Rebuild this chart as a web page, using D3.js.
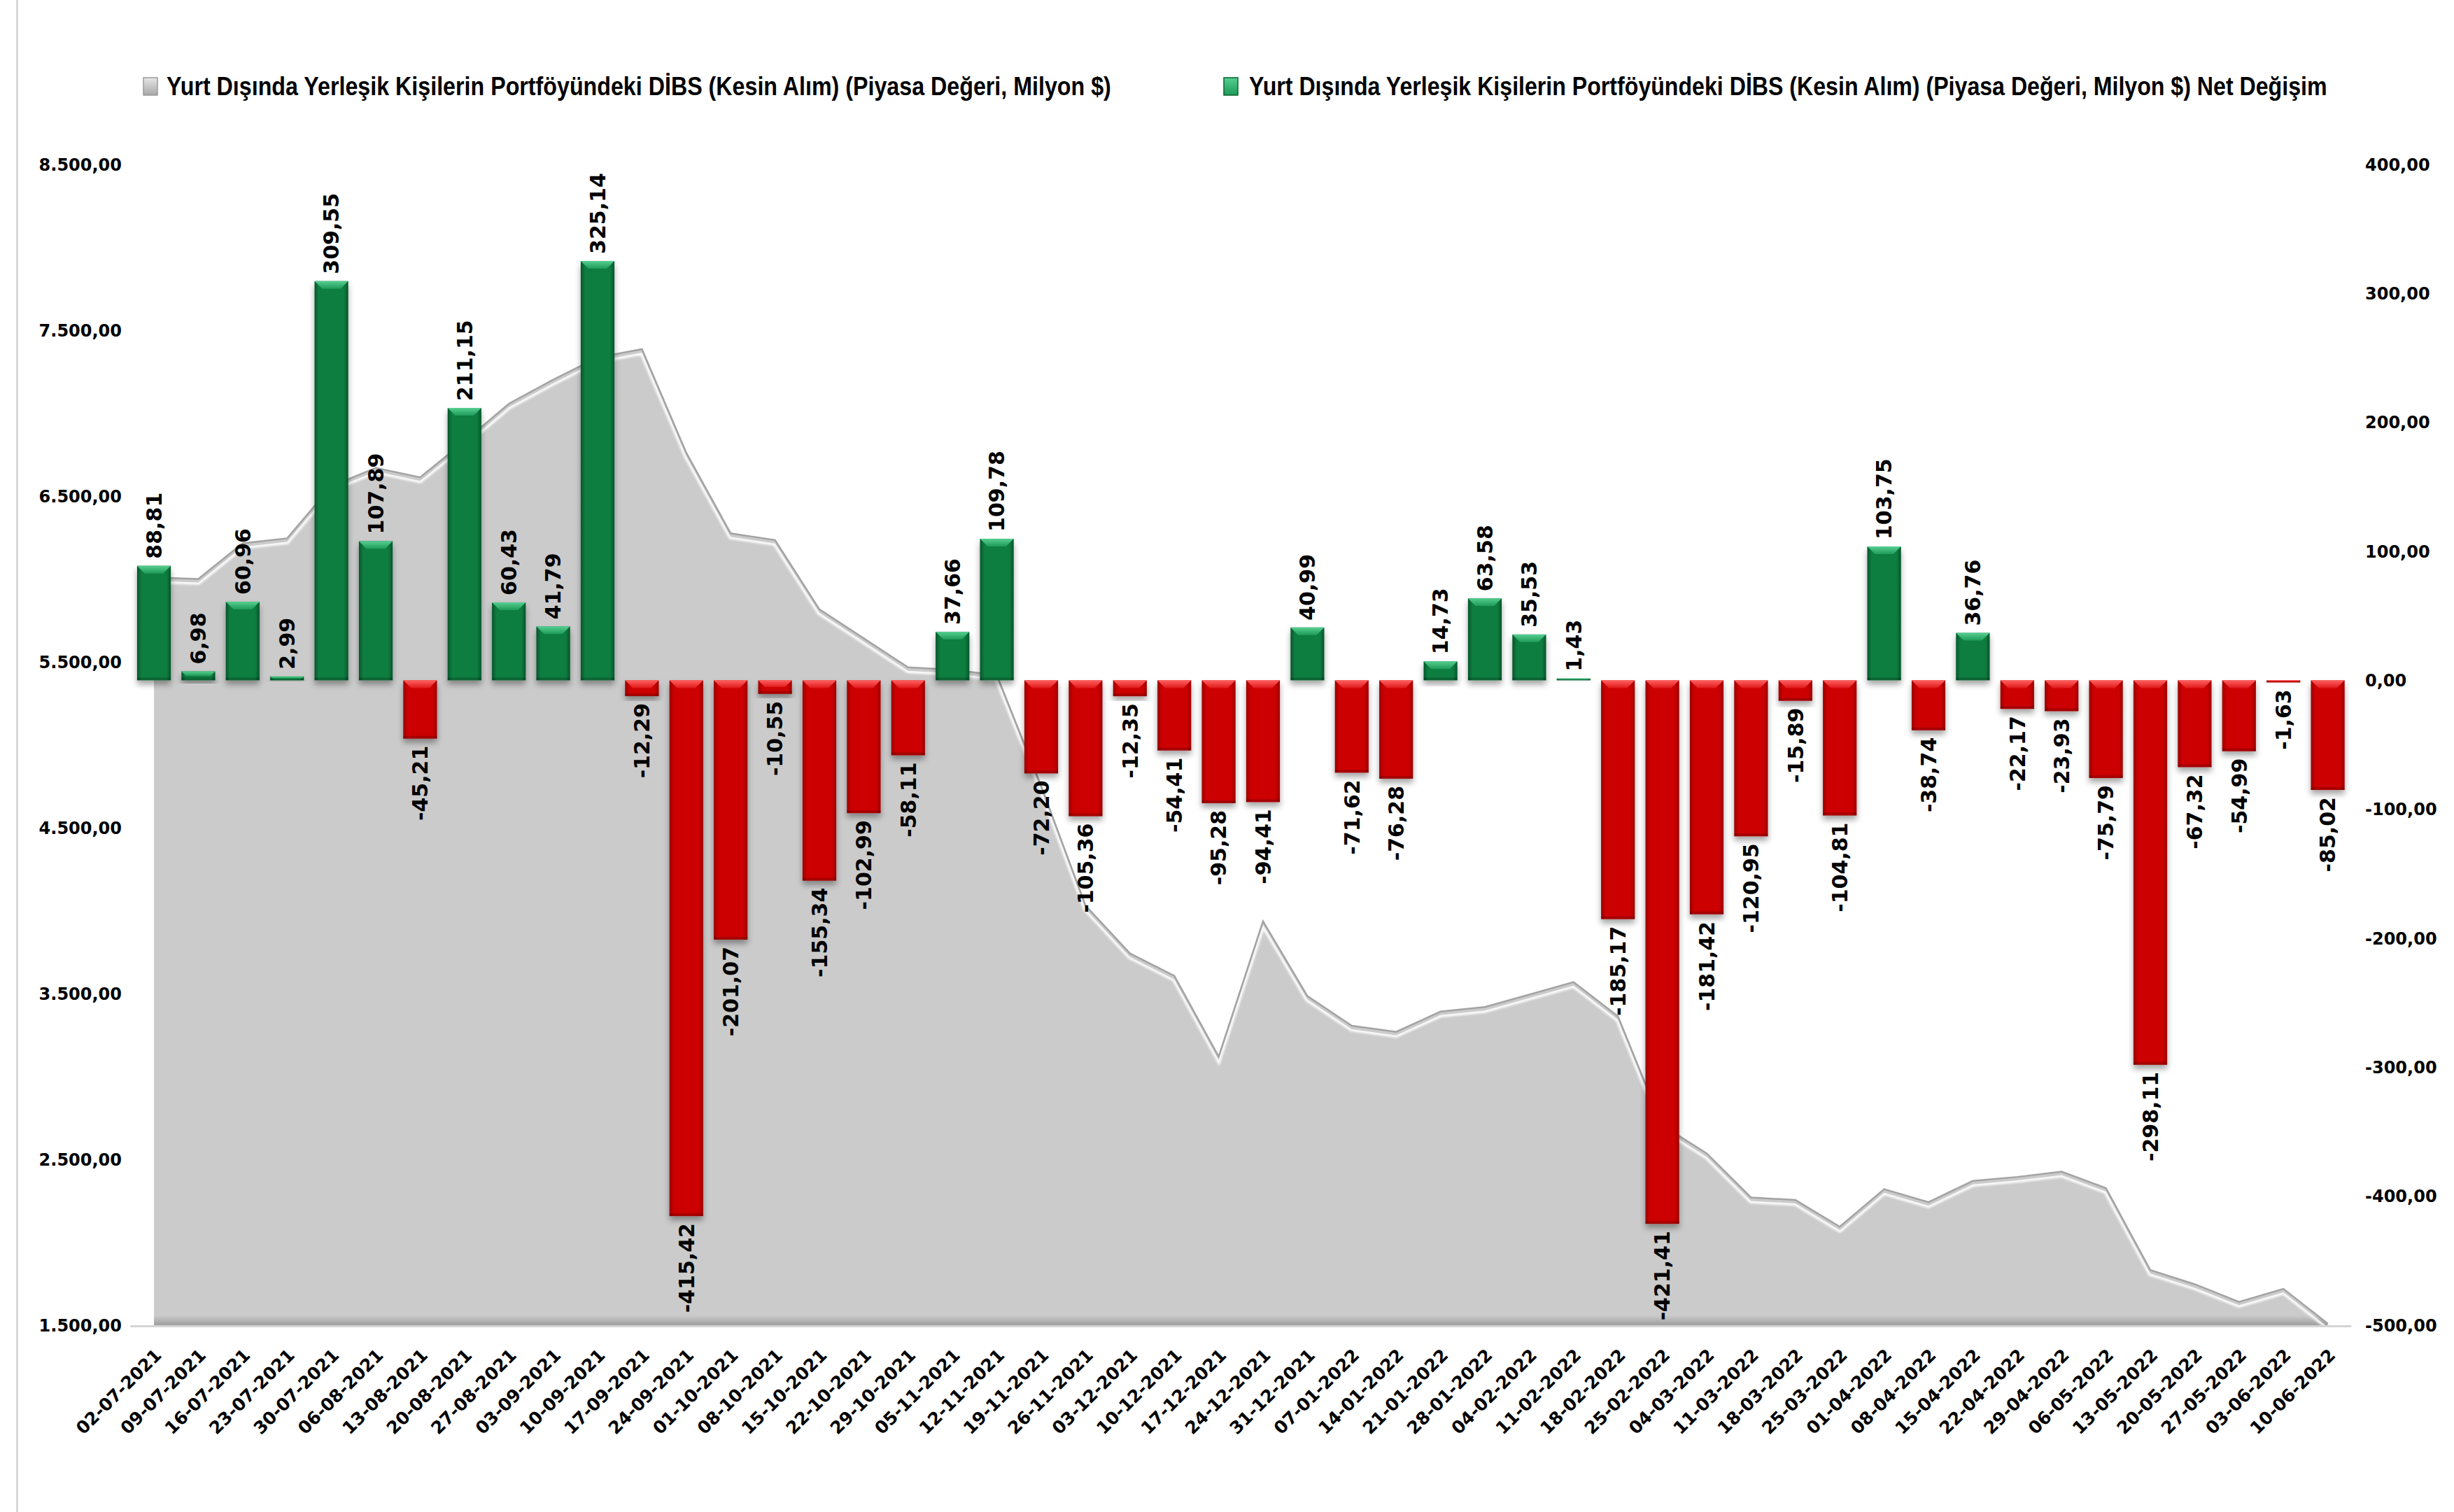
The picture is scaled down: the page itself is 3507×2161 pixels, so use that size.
<!DOCTYPE html>
<html>
<head>
<meta charset="utf-8">
<script src="https://cdn.jsdelivr.net/npm/d3@7"></script>
<style>
	body { margin: 0; background: #fff; }
	svg { display: block; }
</style>
</head>
<body>
<div id="chart"></div>
<script>
// haftalik tarihler
const categories = [
	'02-07-2021', '09-07-2021', '16-07-2021', '23-07-2021', '30-07-2021', '06-08-2021', '13-08-2021', '20-08-2021',
	'27-08-2021', '03-09-2021', '10-09-2021', '17-09-2021', '24-09-2021', '01-10-2021', '08-10-2021', '15-10-2021',
	'22-10-2021', '29-10-2021', '05-11-2021', '12-11-2021', '19-11-2021', '26-11-2021', '03-12-2021', '10-12-2021',
	'17-12-2021', '24-12-2021', '31-12-2021', '07-01-2022', '14-01-2022', '21-01-2022', '28-01-2022', '04-02-2022',
	'11-02-2022', '18-02-2022', '25-02-2022', '04-03-2022', '11-03-2022', '18-03-2022', '25-03-2022', '01-04-2022',
	'08-04-2022', '15-04-2022', '22-04-2022', '29-04-2022', '06-05-2022', '13-05-2022', '20-05-2022', '27-05-2022',
	'03-06-2022', '10-06-2022'
];

// net degisim (sag eksen)
const netChange = [
	88.81, 6.98, 60.96, 2.99, 309.55, 107.89, -45.21, 211.15,
	60.43, 41.79, 325.14, -12.29, -415.42, -201.07, -10.55, -155.34,
	-102.99, -58.11, 37.66, 109.78, -72.20, -105.36, -12.35, -54.41,
	-95.28, -94.41, 40.99, -71.62, -76.28, 14.73, 63.58, 35.53,
	1.43, -185.17, -421.41, -181.42, -120.95, -15.89, -104.81, 103.75,
	-38.74, 36.76, -22.17, -23.93, -75.79, -298.11, -67.32, -54.99,
	-1.63, -85.02
];

// portfoy piyasa degeri (sol eksen), grafikten okunan yaklasik degerler
const portfolio = [
	6010, 6000, 6215, 6245, 6560, 6670, 6613, 6830,
	7057, 7202, 7336, 7386, 6761, 6275, 6235, 5817,
	5642, 5467, 5453, 5420, 4750, 4030, 3742, 3607,
	3120, 3936, 3485, 3306, 3269, 3391, 3419, 3494,
	3569, 3363, 2705, 2536, 2270, 2255, 2094, 2320,
	2242, 2370, 2394, 2426, 2327, 1832, 1747, 1641,
	1719, 1510
];

const leftTicks = [1500, 2500, 3500, 4500, 5500, 6500, 7500, 8500];
const rightTicks = [-500, -400, -300, -200, -100, 0, 100, 200, 300, 400];
const legendNames = [
	'Yurt Dışında Yerleşik Kişilerin Portföyündeki DİBS (Kesin Alım) (Piyasa Değeri, Milyon $)',
	'Yurt Dışında Yerleşik Kişilerin Portföyündeki DİBS (Kesin Alım) (Piyasa Değeri, Milyon $) Net Değişim'
];

const WIDTH = 3507;
const HEIGHT = 2161;
const PLOT = {
	LEFT: 188.3,
	RIGHT: 3358.3,
	TOP: 235,
	BOTTOM: 1894
};
const BOLD = "'DejaVu Sans', sans-serif";

var tr = d3.formatLocale({ decimal: ',', thousands: '.', grouping: [3], currency: ['', ''], minus: '-' });
var fmt = tr.format(',.2f');

var svg = d3.select('#chart').append('svg')
	.attr('width', WIDTH)
	.attr('height', HEIGHT);

var defs = svg.append('defs');

function hGrad (id, edge, mid) {
	var g = defs.append('linearGradient').attr('id', id).attr('x1', 0).attr('x2', 1).attr('y1', 0).attr('y2', 0);
	g.append('stop').attr('offset', 0).attr('stop-color', edge);
	g.append('stop').attr('offset', 0.13).attr('stop-color', mid);
	g.append('stop').attr('offset', 0.87).attr('stop-color', mid);
	g.append('stop').attr('offset', 1).attr('stop-color', edge);
}
function vGrad (id, top, bottom) {
	var g = defs.append('linearGradient').attr('id', id).attr('x1', 0).attr('x2', 0).attr('y1', 0).attr('y2', 1);
	g.append('stop').attr('offset', 0).attr('stop-color', top);
	g.append('stop').attr('offset', 1).attr('stop-color', bottom);
}
hGrad('greenBody', '#05552a', '#0a7d40');
hGrad('redBody', '#9a0000', '#cc0303');
vGrad('greenTop', '#56cf90', '#1f9a58');
vGrad('redTop', '#ff6060', '#e01a1a');
vGrad('grayMarker', '#e6e6e6', '#a8a8a8');
vGrad('areaBottom', 'rgba(0,0,0,0)', 'rgba(0,0,0,0.22)');

var shadow = defs.append('filter').attr('id', 'shadow')
	.attr('x', '-30%').attr('y', '-30%').attr('width', '160%').attr('height', '160%');
shadow.append('feDropShadow')
	.attr('dx', 0).attr('dy', 6).attr('stdDeviation', 4)
	.attr('flood-color', '#000').attr('flood-opacity', 0.35);

var blur = defs.append('filter').attr('id', 'blur');
blur.append('feGaussianBlur').attr('stdDeviation', 1.6);

// sol kenar cizgisi
svg.append('line')
	.attr('x1', 24.5).attr('x2', 24.5)
	.attr('y1', 0).attr('y2', HEIGHT)
	.attr('stroke', '#d9d9d9')
	.attr('stroke-width', 3);

var x = d3.scaleBand()
	.domain(categories)
	.range([PLOT.LEFT, PLOT.RIGHT])
	.paddingInner(0.24)
	.paddingOuter(0.12);
var y0 = d3.scaleLinear().domain([1500, 8500]).range([PLOT.BOTTOM, PLOT.TOP]);
var y1 = d3.scaleLinear().domain([-500, 400]).range([PLOT.BOTTOM, PLOT.TOP]);

function cx (c) {
	return x(c) + x.bandwidth() / 2;
}

// alan serisi
var rows = categories.map(function (c, i) {
	return { name: c, stock: portfolio[i], change: netChange[i] };
});

var area = d3.area()
	.x(function (d) { return cx(d.name); })
	.y0(y0(1500))
	.y1(function (d) { return y0(d.stock); });
var line = d3.line()
	.x(function (d) { return cx(d.name); })
	.y(function (d) { return y0(d.stock); });

defs.append('clipPath').attr('id', 'areaClip')
	.append('path').attr('d', area(rows));

svg.append('path')
	.attr('d', area(rows))
	.attr('fill', '#cbcbcb');

svg.append('rect')
	.attr('clip-path', 'url(#areaClip)')
	.attr('x', PLOT.LEFT).attr('y', PLOT.BOTTOM - 14)
	.attr('width', PLOT.RIGHT - PLOT.LEFT).attr('height', 14)
	.attr('fill', 'url(#areaBottom)');

svg.append('path')
	.attr('clip-path', 'url(#areaClip)')
	.attr('d', line(rows))
	.attr('transform', 'translate(0,5)')
	.attr('fill', 'none')
	.attr('stroke', '#ffffff')
	.attr('stroke-width', 7)
	.attr('opacity', 0.9)
	.attr('filter', 'url(#blur)');

svg.append('path')
	.attr('d', line(rows))
	.attr('fill', 'none')
	.attr('stroke', '#a3a3a3')
	.attr('stroke-width', 2.5);

// alt eksen cizgisi
svg.append('line')
	.attr('x1', PLOT.LEFT - 2).attr('x2', PLOT.RIGHT + 2)
	.attr('y1', PLOT.BOTTOM + 1.5).attr('y2', PLOT.BOTTOM + 1.5)
	.attr('stroke', '#d4d4d4')
	.attr('stroke-width', 3);

// cubuklar
var bars = svg.selectAll('.bar').data(rows).enter()
	.append('g')
	.attr('class', 'bar')
	.attr('filter', 'url(#shadow)');

bars.each(function (d) {
	var g = d3.select(this);
	var pos = d.change >= 0;
	var top = pos ? y1(d.change) : y1(0);
	var bottom = pos ? y1(0) : y1(d.change);
	var h = Math.max(bottom - top, 1.5);
	var left = x(d.name);
	var w = x.bandwidth();
	var b = Math.min(11, h / 2);

	g.append('rect')
		.attr('x', left).attr('y', top)
		.attr('width', w).attr('height', h)
		.attr('fill', pos ? 'url(#greenBody)' : 'url(#redBody)');

	g.append('polygon')
		.attr('points', [
			[left, top], [left + w, top], [left + w - b, top + b], [left + b, top + b]
		].map(function (p) { return p.join(','); }).join(' '))
		.attr('fill', pos ? 'url(#greenTop)' : 'url(#redTop)');

	g.append('rect')
		.attr('x', left).attr('y', top + h - Math.min(4, h / 3))
		.attr('width', w).attr('height', Math.min(4, h / 3))
		.attr('fill', '#000').attr('opacity', 0.18);
});

// veri etiketleri
svg.selectAll('.value').data(rows).enter()
	.append('text')
	.attr('class', 'value')
	.attr('transform', function (d) {
		var yy = d.change >= 0 ? y1(d.change) - 10 : y1(d.change) + 10;
		return 'translate(' + cx(d.name) + ',' + yy + ') rotate(-90)';
	})
	.attr('text-anchor', function (d) { return d.change >= 0 ? 'start' : 'end'; })
	.attr('dy', '0.36em')
	.style('font-family', BOLD)
	.style('font-weight', 'bold')
	.style('font-size', '30px')
	.attr('fill', '#000')
	.text(function (d) { return fmt(d.change); });

// eksen etiketleri
svg.selectAll('.ltick').data(leftTicks).enter()
	.append('text')
	.attr('class', 'ltick')
	.attr('x', 174)
	.attr('y', function (d) { return y0(d); })
	.attr('dy', '0.36em')
	.attr('text-anchor', 'end')
	.style('font-family', BOLD)
	.style('font-weight', 'bold')
	.style('font-size', '24px')
	.text(function (d) { return fmt(d); });

svg.selectAll('.rtick').data(rightTicks).enter()
	.append('text')
	.attr('class', 'rtick')
	.attr('x', 3380)
	.attr('y', function (d) { return y1(d); })
	.attr('dy', '0.36em')
	.attr('text-anchor', 'start')
	.style('font-family', BOLD)
	.style('font-weight', 'bold')
	.style('font-size', '24px')
	.text(function (d) { return fmt(d); });

svg.selectAll('.xtick').data(categories).enter()
	.append('text')
	.attr('class', 'xtick')
	.attr('transform', function (d) {
		return 'translate(' + (cx(d) + 6) + ',' + 1932 + ') rotate(-45)';
	})
	.attr('text-anchor', 'end')
	.attr('dy', '0.36em')
	.style('font-family', BOLD)
	.style('font-weight', 'bold')
	.style('font-size', '25px')
	.text(function (d) { return d; });

// lejant (yazilar dar gorunsun diye yatayda sikistiriliyor)
var legend = [
	{ name: legendNames[0], mx: 205, tx: 238, len: 1350, fill: 'url(#grayMarker)' },
	{ name: legendNames[1], mx: 1749, tx: 1785, len: 1541, fill: 'url(#greenTop)' }
];
var lg = svg.selectAll('.legend').data(legend).enter().append('g').attr('class', 'legend');
lg.append('rect')
	.attr('x', function (d) { return d.mx; })
	.attr('y', 111)
	.attr('width', 20).attr('height', 25)
	.attr('fill', function (d) { return d.fill; })
	.attr('stroke', function (d, i) { return i ? '#06632f' : '#9a9a9a'; })
	.attr('stroke-width', 1.5);
lg.append('text')
	.style('font-family', "'Liberation Sans', sans-serif")
	.style('font-weight', 'bold')
	.style('font-size', '37px')
	.text(function (d) { return d.name; })
	.attr('transform', function (d) {
		var natural = this.getComputedTextLength();
		return 'translate(' + d.tx + ',136) scale(' + (d.len / natural) + ',1)';
	});
</script>
</body>
</html>
